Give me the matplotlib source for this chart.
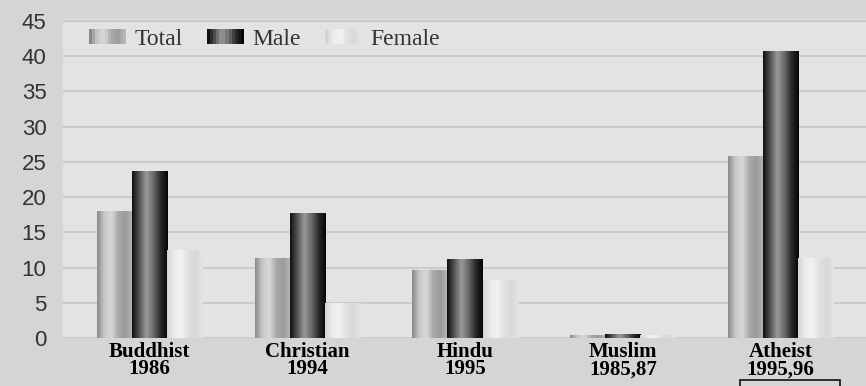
import numpy as np
import matplotlib.pyplot as plt
from matplotlib.colors import LinearSegmentedColormap
from matplotlib.patches import Rectangle
from matplotlib.legend_handler import HandlerBase

categories = ['Buddhist\n1986', 'Christian\n1994', 'Hindu\n1995', 'Muslim\n1985,87', 'Atheist\n1995,96']
total = [18.0, 11.4, 9.7, 0.5, 25.8]
male = [23.7, 17.8, 11.2, 0.6, 40.7]
female = [12.5, 5.0, 8.3, 0.5, 11.4]
series_names = ['Total', 'Male', 'Female']

# cylinder-like shading for each series
cmaps = {
    'Total': LinearSegmentedColormap.from_list('t', ['#8a8a8a', '#c8c8c8', '#d8d8d8', '#a8a8a8', '#9a9a9a', '#b8b8b8']),
    'Male': LinearSegmentedColormap.from_list('m', ['#101010', '#555555', '#9a9a9a', '#6a6a6a', '#2a2a2a', '#050505']),
    'Female': LinearSegmentedColormap.from_list('f', ['#d4d4d4', '#ececec', '#f2f2f2', '#e0e0e0', '#d8d8d8', '#e4e4e4']),
}
grad = np.linspace(0, 1, 64).reshape(1, -1)


class GradientHandler(HandlerBase):
    def __init__(self, cmap):
        super().__init__()
        self.cmap = cmap

    def create_artists(self, legend, orig_handle, xdescent, ydescent, width, height, fontsize, trans):
        n = 12
        arts = []
        for i in range(n):
            r = Rectangle((-xdescent + i * width / n, -ydescent), width / n + 0.3, height,
                          facecolor=self.cmap(i / (n - 1)), edgecolor='none', transform=trans)
            arts.append(r)
        return arts


fig = plt.figure(figsize=(8.66, 3.86), dpi=100, facecolor='#d5d5d5')
ax = fig.add_axes([0.073, 0.124, 0.927, 0.827])
ax.set_facecolor('#e3e3e3')

x = np.arange(len(categories))
w = 0.222
handles = []
for k, (name, vals) in enumerate(zip(series_names, [total, male, female])):
    bars = ax.bar(x + (k - 1) * w, vals, w, color='none', edgecolor='none', label=name, zorder=3)
    for b in bars:
        x0, y0 = b.get_x(), b.get_y()
        im = ax.imshow(grad, cmap=cmaps[name], aspect='auto', interpolation='bicubic',
                       extent=(x0, x0 + b.get_width(), y0, y0 + b.get_height()), zorder=3)
        im.set_clip_path(b)
    handles.append(Rectangle((0, 0), 1, 1, color='gray'))

ax.set_xlim(-0.545, 4.54)
ax.set_ylim(0, 45.3)
ax.set_yticks(range(0, 46, 5))
ax.yaxis.grid(True, color='#c6c6c6', linewidth=1.2, zorder=0)
ax.set_axisbelow(True)
for s in ax.spines.values():
    s.set_visible(False)
ax.tick_params(length=0)
ax.tick_params(axis='y', pad=12, labelsize=16, labelcolor='#333333')
ax.set_xticks(x)
ax.set_xticklabels(categories, fontfamily='Liberation Serif', fontweight='bold',
                   fontsize=15, linespacing=0.8)
ax.tick_params(axis='x', pad=3)
for t in ax.get_yticklabels():
    t.set_fontfamily('Liberation Sans')

ax.legend(handles, series_names, loc='upper left', bbox_to_anchor=(0.006, 1.035), ncol=3,
          frameon=False, prop={'family': 'Liberation Serif', 'size': 17},
          handler_map={h: GradientHandler(cmaps[n]) for h, n in zip(handles, series_names)},
          handlelength=1.55, handleheight=0.6, handletextpad=0.35, columnspacing=1.05,
          labelcolor='#333333')

# cropped box at bottom right
fig.patches.append(Rectangle((740 / 866, -0.02), 100 / 866, 0.035, transform=fig.transFigure,
                             facecolor='none', edgecolor='#111111', linewidth=1.2))

fig.savefig('out.png', dpi=100, facecolor=fig.get_facecolor())
